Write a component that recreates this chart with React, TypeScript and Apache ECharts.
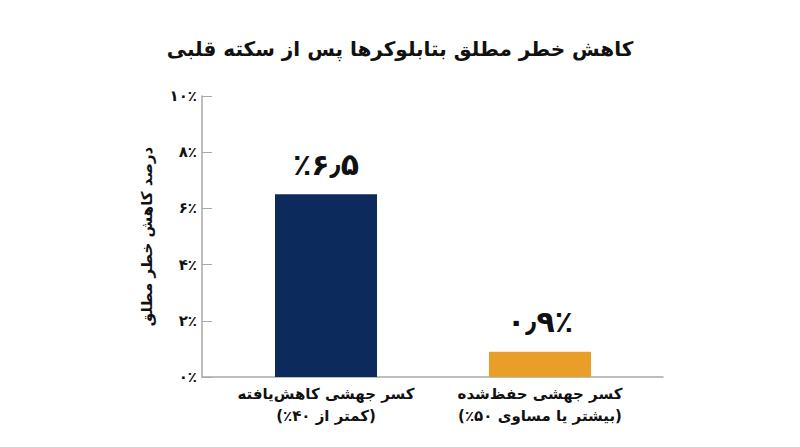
import React, { useEffect, useRef } from 'react';
import * as echarts from 'echarts';

const title = 'کاهش خطر مطلق بتابلوکرها پس از سکته قلبی';
const yAxisName = 'درصد کاهش خطر مطلق';
const categories = [
  'کسر جهشی کاهش‌یافته\n\u200F(کمتر از ۴۰٪)\u200F',
  'کسر جهشی حفظ‌شده\n\u200F(بیشتر یا مساوی ۵۰٪)\u200F',
];
const values = [6.5, 0.9];
const barLabels = ['٪۶٫۵', '۰٫۹٪'];
const barColors = ['#0c2a5b', '#e99e2a'];

const faDigits = '۰۱۲۳۴۵۶۷۸۹';
const toFa = (n: number) =>
  String(n).replace(/\d/g, (d) => faDigits[Number(d)]).replace('.', '٫');

const FONT = '"DejaVu Sans", sans-serif';
const AXIS_GRAY = '#a8a8a8';

const App: React.FC = () => {
  const chartRef = useRef<HTMLDivElement | null>(null);

  useEffect(() => {
    let chart: echarts.ECharts | null = null;
    if (chartRef.current) {
      chart = echarts.init(chartRef.current, null, { renderer: 'svg' });

      const option = {
        animation: false,
        backgroundColor: '#ffffff',
        textStyle: { fontFamily: FONT },
        title: {
          text: title,
          left: 'center',
          top: 26,
          textStyle: { fontSize: 20, fontWeight: 'bold', color: '#111', fontFamily: FONT },
        },
        // page has an 8px body margin, grids are placed 8px in.
        // grid 0: the axis frame, grid 1: the bars (a bit narrower than the frame)
        grid: [
          { left: 194, right: 129, top: 88, bottom: 62 },
          { left: 211, right: 145, top: 88, bottom: 62 },
        ],
        xAxis: [
          {
            gridIndex: 0,
            type: 'category',
            data: ['', ''],
            axisLine: { lineStyle: { color: AXIS_GRAY, width: 1.5 } },
            axisTick: { show: false },
            axisLabel: { show: false },
          },
          {
            gridIndex: 1,
            type: 'category',
            data: categories,
            axisLine: { show: false },
            axisTick: { show: false },
            axisLabel: {
              interval: 0,
              margin: 6,
              fontSize: 15,
              fontWeight: 'bold',
              color: '#111',
              lineHeight: 22,
              fontFamily: FONT,
            },
          },
        ],
        yAxis: [
          {
            gridIndex: 0,
            type: 'value',
            min: 0,
            max: 10,
            interval: 2,
            name: yAxisName,
            nameLocation: 'middle',
            nameGap: 48,
            nameTextStyle: { fontSize: 15, fontWeight: 'bold', color: '#111', fontFamily: FONT },
            axisLine: { show: true, lineStyle: { color: AXIS_GRAY, width: 1.5 } },
            axisTick: { show: true, inside: true, length: 10, lineStyle: { color: AXIS_GRAY } },
            splitLine: { show: false },
            axisLabel: {
              margin: 5,
              fontSize: 15,
              fontWeight: 'bold',
              color: '#111',
              fontFamily: FONT,
              formatter: (v: number) => toFa(v) + '٪',
            },
          },
          {
            gridIndex: 1,
            type: 'value',
            min: 0,
            max: 10,
            show: false,
          },
        ],
        series: [
          {
            type: 'bar',
            xAxisIndex: 1,
            yAxisIndex: 1,
            barWidth: 102,
            data: values.map((v, i) => ({
              value: v,
              itemStyle: { color: barColors[i] },
              label: { formatter: barLabels[i] },
            })),
            label: {
              show: true,
              position: 'top',
              distance: 15,
              fontSize: 30,
              fontWeight: 'bold',
              color: '#111',
              fontFamily: FONT,
            },
          },
        ],
      };

      chart.setOption(option);
    }

    return () => {
      chart?.dispose();
    };
  }, []);

  return <div ref={chartRef} style={{ width: '784px', height: '431px' }}></div>;
};

export default App;
